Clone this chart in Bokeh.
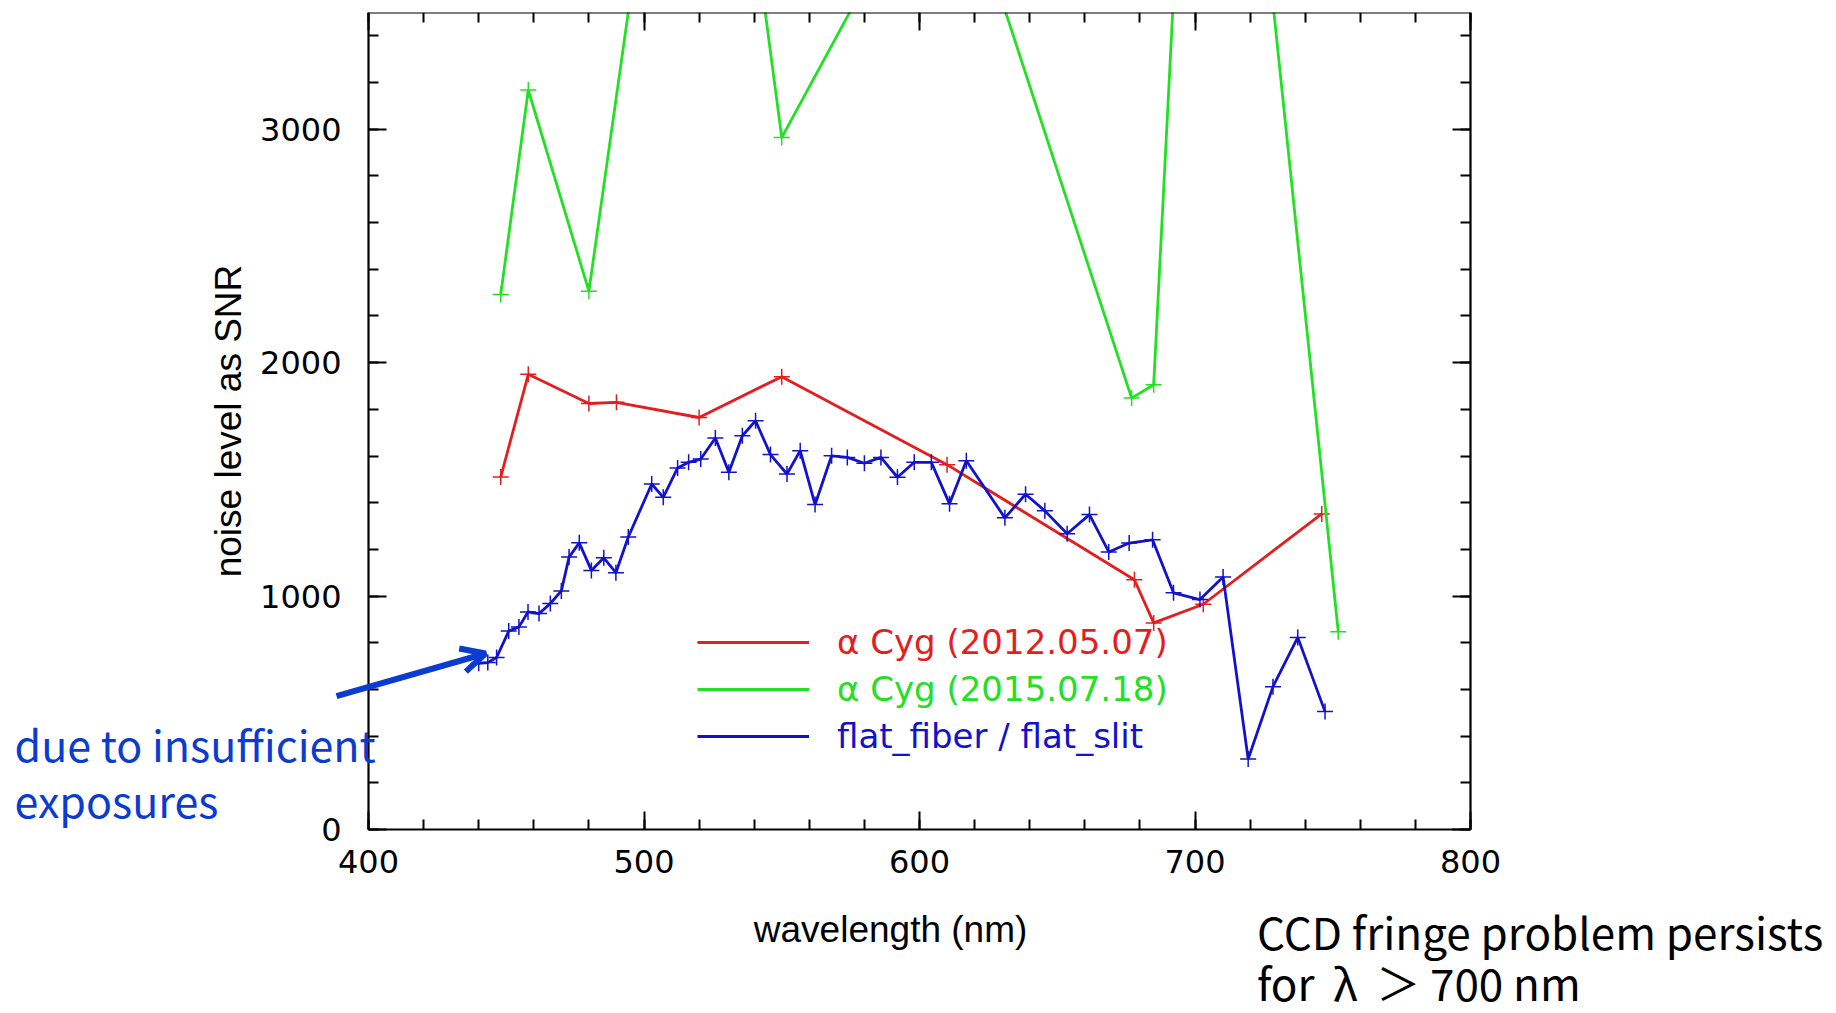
from bokeh.plotting import figure
from bokeh.models import (LinearAxis, FixedTicker, Legend, LegendItem, Label,
                          Arrow, OpenHead, Range1d)
from bokeh.embed import file_html
from bokeh.resources import INLINE

# ---------------- data ----------------
red_x = [448, 458, 480, 490, 520, 550, 610, 678, 685, 703, 746]
red_y = [1510, 1950, 1825, 1830, 1765, 1940, 1563, 1070, 885, 965, 1352]

green_x = [448, 458, 480, 520, 550, 610, 677, 685, 704, 752]
green_y = [2292, 3168, 2306, 5650, 2964, 4270, 1848, 1905, 6300, 847]

blue_x = [440.0, 443.3, 446.5, 450.9, 454.6, 457.9, 461.9, 466.0, 470.0, 472.8,
          476.5, 480.9, 485.4, 489.8, 494.3, 502.8, 507.0, 512.2, 516.2, 520.6,
          525.9, 530.8, 535.7, 540.5, 545.9, 551.9, 556.7, 562.1, 568.1, 573.8,
          580.0, 586.0, 592.0, 598.1, 604.3, 610.9, 617.0, 631.0, 638.5, 645.5,
          653.6, 661.7, 668.7, 676.1, 684.6, 692.2, 701.8, 710.2, 719.3, 728.3,
          737.3, 747.2]
blue_y = [712, 715, 737, 850, 868, 932, 925, 968, 1022, 1167,
          1228, 1110, 1164, 1100, 1253, 1480, 1423, 1549, 1573, 1587,
          1677, 1530, 1687, 1751, 1606, 1523, 1623, 1392, 1601, 1594,
          1569, 1594, 1509, 1573, 1573, 1395, 1580, 1335, 1436, 1365,
          1267, 1349, 1189, 1227, 1241, 1014, 985, 1082, 302, 612,
          823, 505]

series_labels = ["α Cyg (2012.05.07)", "α Cyg (2015.07.18)", "flat_fiber / flat_slit"]
x_ticks = [400, 500, 600, 700, 800]
y_ticks = [0, 1000, 2000, 3000]
x_minor = list(range(400, 801, 20))
y_minor = list(range(0, 3501, 200))
X_LIM = (400, 800)
Y_LIM = (0, 3500)

RED = "#E41E1E"
GREEN = "#22E022"
BLUE = "#1212CC"
NOTE_BLUE = "#0B3CD2"

# Page geometry (pixels): the data box spans x 368..1470 and y 12..829.
W, H = 1836, 1013
BOX_L, BOX_R, BOX_T, BOX_B = 368, 1470, 12, 829
kx = (BOX_R - BOX_L) / (X_LIM[1] - X_LIM[0])
ky = (BOX_B - BOX_T) / (Y_LIM[1] - Y_LIM[0])
x_range = Range1d(X_LIM[0] - BOX_L / kx, X_LIM[1] + (W - BOX_R) / kx)
y_range = Range1d(Y_LIM[0] - (H - BOX_B) / ky, Y_LIM[1])

p = figure(width=W, height=H, x_range=x_range, y_range=y_range,
           x_axis_location=None, y_axis_location=None,
           output_backend="svg", toolbar_location=None,
           min_border_left=0, min_border_right=0,
           min_border_top=BOX_T, min_border_bottom=0)
p.xgrid.visible = False
p.ygrid.visible = False
p.outline_line_color = None
p.background_fill_color = "white"
p.border_fill_color = "white"

xb = LinearAxis(fixed_location=Y_LIM[0], bounds=X_LIM)
top = LinearAxis(fixed_location=Y_LIM[1], bounds=X_LIM)
yl = LinearAxis(fixed_location=X_LIM[0], bounds=Y_LIM)
right = LinearAxis(fixed_location=X_LIM[1], bounds=Y_LIM)
p.add_layout(xb, "below")
p.add_layout(top, "above")
p.add_layout(yl, "left")
p.add_layout(right, "right")

for ax, ticks, minor in [(xb, x_ticks, x_minor), (top, x_ticks, x_minor),
                         (yl, y_ticks, y_minor), (right, y_ticks, y_minor)]:
    ax.ticker = FixedTicker(ticks=ticks, minor_ticks=minor)
    ax.axis_line_color = "black"
    ax.axis_line_width = 2.2
    ax.major_tick_line_color = "black"
    ax.major_tick_line_width = 2
    ax.minor_tick_line_color = "black"
    ax.minor_tick_line_width = 2
    ax.major_tick_in = 18
    ax.major_tick_out = 0
    ax.minor_tick_in = 10
    ax.minor_tick_out = 0
    ax.major_label_text_font = "DejaVu Sans"
    ax.major_label_text_font_size = "32px"
    ax.major_label_text_color = "black"
    ax.axis_label_text_font = "Liberation Sans"
    ax.axis_label_text_font_size = "37px"
    ax.axis_label_text_font_style = "normal"
    ax.axis_label_text_color = "black"

for ax in (top, right):
    ax.major_label_text_color = None
    ax.axis_label = None

xb.major_label_standoff = 20
yl.axis_label = "noise level as SNR"
yl.major_label_standoff = 27
yl.axis_label_standoff = 8
yl.major_label_orientation = "horizontal"

p.add_layout(Label(x=589.5, y=-428, text="wavelength (nm)", text_align="center",
                   text_baseline="middle", text_font="Liberation Sans",
                   text_font_size="37px", text_color="black"))

r_red = p.line(red_x, red_y, line_color=RED, line_width=2.8)
p.scatter(red_x, red_y, marker="cross", size=16, line_color=RED, line_width=1.5)
r_green = p.line(green_x, green_y, line_color=GREEN, line_width=2.8)
p.scatter(green_x, green_y, marker="cross", size=16, line_color=GREEN, line_width=1.5)
r_blue = p.line(blue_x, blue_y, line_color=BLUE, line_width=2.8)
p.scatter(blue_x, blue_y, marker="cross", size=16, line_color=BLUE, line_width=1.5)

legend_rows = [(r_red, RED, 351), (r_green, GREEN, 304), (r_blue, BLUE, 257)]
for (rend, col, ypos), lab in zip(legend_rows, series_labels):
    lg = Legend(items=[LegendItem(label=lab, renderers=[rend])],
                location=(697, ypos), padding=0, margin=0,
                border_line_alpha=0, background_fill_alpha=0,
                glyph_width=112, glyph_height=20, label_height=20,
                label_standoff=28, label_text_font="DejaVu Sans",
                label_text_font_size="34px", label_text_color=col)
    p.add_layout(lg, "center")

p.add_layout(Label(x=271.5, y=370, text="due to insufficient", text_baseline="middle",
                   text_font="Noto Sans CJK JP", text_font_size="43px",
                   text_color=NOTE_BLUE))
p.add_layout(Label(x=271.5, y=130, text="exposures", text_baseline="middle",
                   text_font="Noto Sans CJK JP", text_font_size="43px",
                   text_color=NOTE_BLUE))
p.add_layout(Arrow(end=OpenHead(size=24, line_width=6, line_color=NOTE_BLUE),
                   x_start=388.4, y_start=571, x_end=442.5, y_end=754,
                   line_color=NOTE_BLUE, line_width=6))

p.add_layout(Label(x=722.5, y=-436, text="CCD fringe problem persists",
                   text_baseline="alphabetic",
                   text_font="Noto Sans CJK JP", text_font_size="44px", text_color="black"))
p.add_layout(Label(x=722.5, y=-652, text="for \u2009λ \u2009＞ 700 nm",
                   text_baseline="alphabetic",
                   text_font="Noto Sans CJK JP", text_font_size="44px", text_color="black"))

open("out.html", "w").write(file_html(p, INLINE, title="SNR"))
